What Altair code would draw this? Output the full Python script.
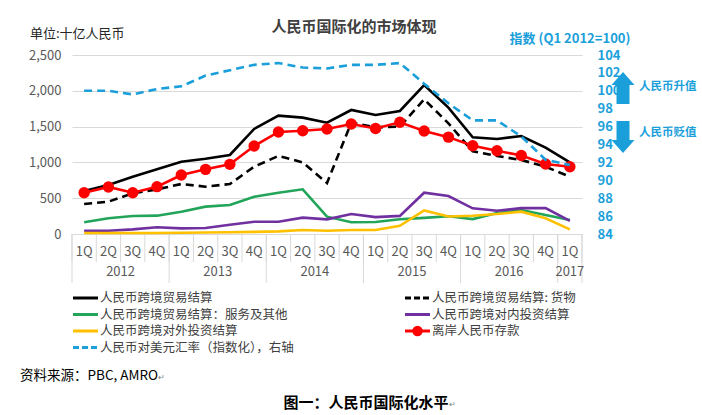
import altair as alt
import pandas as pd

# ---------------- data ----------------
quarters = ["1Q", "2Q", "3Q", "4Q"] * 5 + ["1Q"]
years = ["2012", "2013", "2014", "2015", "2016", "2017"]
year_centers = [1.5, 5.5, 9.5, 13.5, 17.5, 20]

trade_total = [600, 685, 800, 903, 1010, 1052, 1104, 1467, 1653, 1625, 1555, 1732,
               1662, 1718, 2081, 1765, 1351, 1327, 1369, 1206, 1000]
trade_goods = [419, 452, 568, 624, 698, 661, 698, 940, 1090, 1000, 712, 1555,
               1490, 1500, 1881, 1545, 1155, 1090, 1034, 940, 800]
trade_services = [163, 219, 251, 256, 312, 382, 405, 521, 577, 624, 242, 165,
                  168, 205, 225, 248, 208, 292, 335, 265, 196]
inbound_inv = [46, 46, 65, 94, 79, 84, 130, 172, 172, 228, 205, 279,
               236, 253, 577, 531, 359, 324, 361, 361, 184]
outbound_inv = [15, 15, 15, 15, 18, 20, 25, 30, 37, 56, 45, 56,
                56, 114, 330, 245, 255, 279, 312, 219, 65]
offshore_dep = [577, 657, 577, 661, 824, 903, 973, 1229, 1425, 1443, 1467, 1537,
                1473, 1560, 1439, 1353, 1232, 1162, 1097, 978, 940]
fx_index = [100.0, 100.0, 99.6, 100.2, 100.5, 101.7, 102.3, 102.9, 103.1, 102.6, 102.5, 102.9,
            102.9, 103.1, 100.8, 98.6, 96.7, 96.7, 94.9, 92.3, 91.7]

legend_labels = ["人民币跨境贸易结算", "人民币跨境贸易结算：服务及其他", "人民币跨境对外投资结算",
                 "人民币对美元汇率（指数化），右轴", "人民币跨境贸易结算: 货物",
                 "人民币跨境对内投资结算", "离岸人民币存款"]

left_ticks = [0, 500, 1000, 1500, 2000, 2500]
right_ticks = [84, 86, 88, 90, 92, 94, 96, 98, 100, 102, 104]

# ---------------- style ----------------
W, H = 510, 179
FONT = "Noto Sans CJK SC"
BLUE = "#1B9FDB"
GREEN = "#22A559"
PURPLE = "#7030A0"
YELLOW = "#FFC000"
RED = "#FF0000"
GRID = "#D9D9D9"
GRAYTXT = "#595959"
LEGTXT = "#404040"

df = pd.DataFrame({
    "idx": list(range(21)), "q": quarters,
    "total": trade_total, "goods": trade_goods, "services": trade_services,
    "inbound": inbound_inv, "outbound": outbound_inv, "deposit": offshore_dep,
    "fx": fx_index,
})

xs = alt.Scale(domain=[-0.5, 20.5], nice=False, zero=False)
yl = alt.Scale(domain=[0, 2500], nice=False)
yr = alt.Scale(domain=[84, 104], nice=False, zero=False)
X = alt.X("idx:Q", scale=xs, axis=None)

base = alt.Chart(df)

left_axis = alt.Axis(values=left_ticks, format=",.0f", grid=True, gridColor=GRID, gridWidth=1,
                     domain=False, ticks=False, labelPadding=11, labelFontSize=13,
                     labelColor=GRAYTXT, labelFont=FONT, title=None, orient="left")
right_axis = alt.Axis(values=right_ticks, format=".0f", grid=False, domain=False, ticks=False,
                      labelPadding=15, labelFontSize=13, labelFontWeight="bold",
                      labelColor=BLUE, labelFont=FONT, title=None, orient="right")


def line(field, color, dash=None, axis=None, width=2.6):
    kw = dict(color=color, strokeWidth=width)
    if dash:
        kw["strokeDash"] = dash
    return base.mark_line(**kw).encode(
        x=X, y=alt.Y(f"{field}:Q", scale=yl, axis=axis))


grid_layer = line("services", GREEN, axis=left_axis)
l_purple = line("inbound", PURPLE)
l_yellow = line("outbound", YELLOW)
l_black = line("total", "#000000")
l_goods = line("goods", "#000000", dash=[8, 5])
l_red = line("deposit", RED)
p_red = base.mark_circle(color=RED, size=130, opacity=1).encode(
    x=X, y=alt.Y("deposit:Q", scale=yl, axis=None))
l_blue = base.mark_line(color=BLUE, strokeWidth=2.6, strokeDash=[8, 5]).encode(
    x=X, y=alt.Y("fx:Q", scale=yr, axis=right_axis))

# ---------------- x axis (two levels) ----------------
qsep = pd.DataFrame({"pos": [k + 0.5 for k in range(-1, 21)]})
ysep_pos = [-0.5, 3.5, 7.5, 11.5, 15.5, 19.5, 20.5]
q_rules = alt.Chart(qsep).mark_rule(color=GRID, strokeWidth=1).encode(
    x=alt.X("pos:Q", scale=xs, axis=None), y=alt.value(H), y2=alt.value(H + 28))
y_rules = alt.Chart(pd.DataFrame({"pos": ysep_pos})).mark_rule(color=GRID, strokeWidth=1).encode(
    x=alt.X("pos:Q", scale=xs, axis=None), y=alt.value(H), y2=alt.value(H + 49))
q_text = base.mark_text(font=FONT, fontSize=13, color=GRAYTXT, baseline="middle").encode(
    x=X, y=alt.value(H + 18), text="q:N")
y_text = alt.Chart(pd.DataFrame({"yr": years, "c": year_centers})).mark_text(
    font=FONT, fontSize=13, color=GRAYTXT, baseline="middle").encode(
    x=alt.X("c:Q", scale=xs, axis=None), y=alt.value(H + 38), text="yr:N")

one = pd.DataFrame({"k": [0]})


def txt(s, x, y, size=13, color="#262626", weight="normal", align="left"):
    return alt.Chart(one).mark_text(text=s, font=FONT, fontSize=size, color=color,
                                    fontWeight=weight, align=align, baseline="middle").encode(
        x=alt.value(x), y=alt.value(y))


def lrule(x0, y, color, dash=None):
    kw = dict(color=color, strokeWidth=3)
    if dash:
        kw["strokeDash"] = dash
    return alt.Chart(one).mark_rule(**kw).encode(
        x=alt.value(x0), x2=alt.value(x0 + 25), y=alt.value(y))


# ---------------- annotations ----------------
annots = [
    txt("人民币国际化的市场体现", 282, -28, size=15, color="#404040", weight="bold", align="center"),
    txt("单位:十亿人民币", -42, -21, size=13),
    txt("指数 (Q1 2012=100)", 498, -16, size=13, color=BLUE, weight="bold", align="center"),
    txt("人民币升值", 567, 32, size=11.5, color=BLUE, weight="bold"),
    txt("人民币贬值", 567, 78, size=11.5, color=BLUE, weight="bold"),
    alt.Chart(one).mark_point(
        shape="M0,-1.6 L1.15,-0.3 L0.65,-0.3 L0.65,1.6 L-0.65,1.6 L-0.65,-0.3 L-1.15,-0.3 Z",
        filled=True, size=400, color=BLUE, opacity=1, strokeWidth=0).encode(
        x=alt.value(551), y=alt.value(33)),
    alt.Chart(one).mark_point(
        shape="M0,1.6 L1.15,0.3 L0.65,0.3 L0.65,-1.6 L-0.65,-1.6 L-0.65,0.3 L-1.15,0.3 Z",
        filled=True, size=400, color=BLUE, opacity=1, strokeWidth=0).encode(
        x=alt.value(551), y=alt.value(82)),
    txt("资料来源：PBC, AMRO", -52, 321, size=13.5, color="#000000"),
    txt("↵", 86, 323, size=8, color="#7F7F7F"),
    txt("图一：人民币国际化水平", 294, 348, size=15, color="#000000", weight="bold", align="center"),
    txt("↵", 377, 350, size=8, color="#7F7F7F"),
]

# ---------------- legend ----------------
rows = [243, 259.5, 276, 292.5]
c1, c2 = 1, 333
LS = 12.5
legend = [
    lrule(c1, rows[0], "#000000"), txt(legend_labels[0], c1 + 27, rows[0], size=LS, color=LEGTXT),
    lrule(c1, rows[1], GREEN), txt(legend_labels[1], c1 + 27, rows[1], size=LS, color=LEGTXT),
    lrule(c1, rows[2], YELLOW), txt(legend_labels[2], c1 + 27, rows[2], size=LS, color=LEGTXT),
    lrule(c1, rows[3], BLUE, [6, 3]), txt(legend_labels[3], c1 + 27, rows[3], size=LS, color=LEGTXT),
    lrule(c2, rows[0], "#000000", [6, 3]), txt(legend_labels[4], c2 + 27, rows[0], size=LS, color=LEGTXT),
    lrule(c2, rows[1], PURPLE), txt(legend_labels[5], c2 + 27, rows[1], size=LS, color=LEGTXT),
    lrule(c2, rows[2], RED), txt(legend_labels[6], c2 + 27, rows[2], size=LS, color=LEGTXT),
    alt.Chart(one).mark_circle(color=RED, size=110, opacity=1).encode(
        x=alt.value(c2 + 12.5), y=alt.value(rows[2])),
]

chart = alt.layer(
    grid_layer, q_rules, y_rules, q_text, y_text,
    l_purple, l_yellow, l_black, l_goods, l_red, p_red, l_blue,
    *annots, *legend,
).resolve_scale(y="independent").properties(
    width=W, height=H, autosize="none",
    padding={"left": 72, "top": 55, "right": 120, "bottom": 181},
    background="white",
).configure_view(stroke=None)

chart.save("out.html", embed_options={"renderer": "svg", "actions": False})
